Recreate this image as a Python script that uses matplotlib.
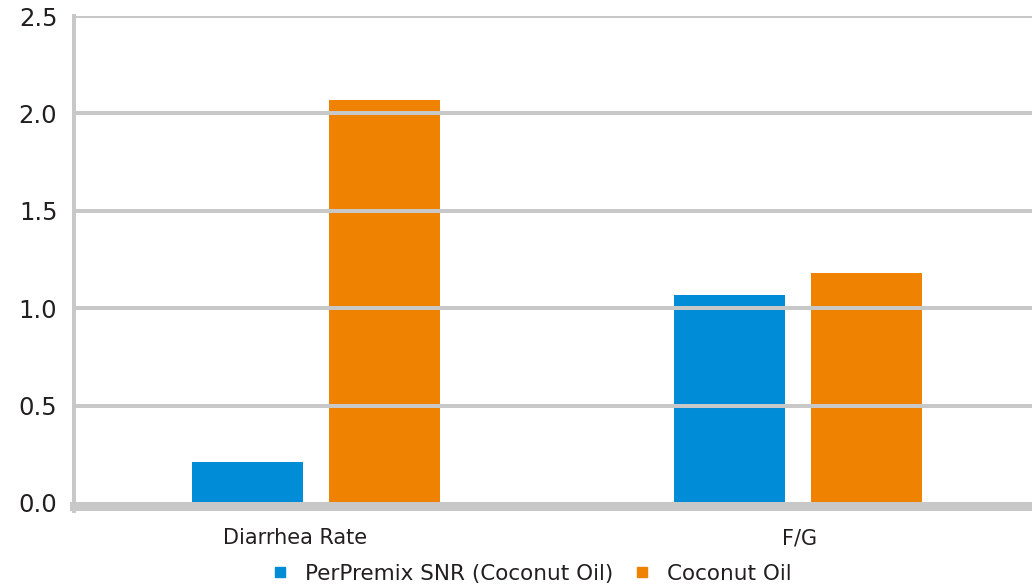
import matplotlib.pyplot as plt
import numpy as np
from matplotlib.lines import Line2D

categories = ['Diarrhea Rate', 'F/G']
series_names = ['PerPremix SNR (Coconut Oil)', 'Coconut Oil']
snr_vals = [0.21, 1.07]
coconut_vals = [2.07, 1.18]
yticks = [0.0, 0.5, 1.0, 1.5, 2.0, 2.5]

blue = '#008cd6'
orange = '#ef8200'
grid_col = '#c8c8c8'
text_col = '#231f20'

plt.rcParams['font.family'] = ['DejaVu Sans']

W, H = 1032, 586
fig = plt.figure(figsize=(W / 100, H / 100), dpi=100)
# plot area runs a little past the right edge of the figure
ax = fig.add_axes([74 / W, (H - 503) / H, 964 / W, (503 - 16) / H])

# spines first: moving a spine resets the tick objects
for s in ['top', 'right']:
    ax.spines[s].set_visible(False)
ax.spines['left'].set_color(grid_col)
ax.spines['left'].set_linewidth(2.9)
ax.spines['bottom'].set_color(grid_col)
ax.spines['bottom'].set_linewidth(6.5)
ax.spines['bottom'].set_position(('outward', 2.5))
ax.spines['bottom'].set_zorder(4)

x = np.arange(len(categories)) + 0.5
w = 0.23
off = 0.142
ax.bar(x - off + 0.002, snr_vals, w, color=blue, zorder=1)
ax.bar(x + off + 0.002, coconut_vals, w, color=orange, zorder=1)

ax.set_xlim(0, 2)
ax.set_ylim(0, 2.5)
ax.spines['left'].set_bounds(-0.04, 2.5)
ax.set_yticks(yticks)
ax.set_yticklabels(['%.1f' % v for v in yticks])
# category labels sit slightly off the group centres
ax.set_xticks([0.458, 1.506])
ax.set_xticklabels(categories)
ax.tick_params(axis='y', length=0, pad=12, labelsize=17.5, labelcolor=text_col)
ax.tick_params(axis='x', length=0, pad=15.5, labelsize=15, labelcolor=text_col)

# gridlines sit on top of the bars
for v in yticks[1:]:
    ax.axhline(v, color=grid_col, lw=2.9, zorder=3)

handles = [Line2D([], [], ls='none', marker='s', markersize=7.5, color=c) for c in (blue, orange)]
leg = fig.legend(handles, series_names, loc='center', bbox_to_anchor=(533 / W, 1 - 574 / H),
                 ncol=2, frameon=False, fontsize=15.5, handlelength=0.5, handletextpad=0.92,
                 columnspacing=1.1, borderpad=0, borderaxespad=0)
for t in leg.get_texts():
    t.set_color(text_col)

fig.savefig('out.png', dpi=100)
